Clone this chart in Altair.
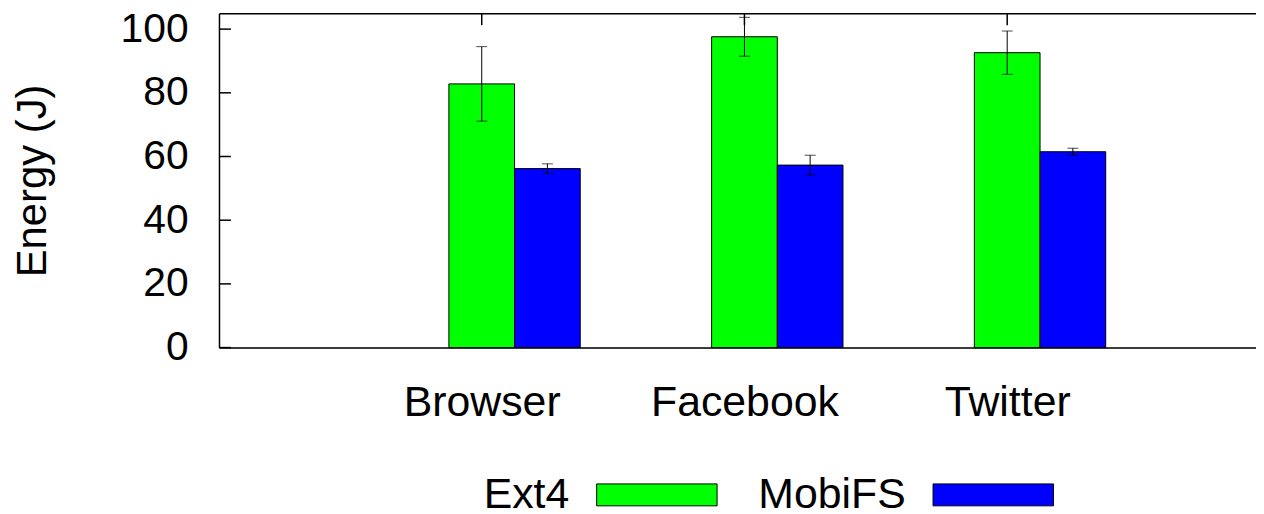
import altair as alt
import pandas as pd

categories = ["Browser", "Facebook", "Twitter"]
series = ["Ext4", "MobiFS"]
ext4_energy = [82.8, 97.6, 92.6]
ext4_err = [11.7, 6.1, 6.8]
mobifs_energy = [56.2, 57.3, 61.5]
mobifs_err = [1.5, 3.1, 1.1]
colors = ["#00ff00", "#0000ff"]
y_ticks = [0, 20, 40, 60, 80, 100]
x_ticks = [0, 1, 2]

rows = []
for i, c in enumerate(categories):
    for j, (s, vals, errs) in enumerate([("Ext4", ext4_energy, ext4_err),
                                         ("MobiFS", mobifs_energy, mobifs_err)]):
        rows.append(dict(app=c, idx=i, series=s, sidx=j, energy=vals[i], err=errs[i]))
df = pd.DataFrame(rows)

FONT = "Liberation Sans"
label_expr = "[" + ",".join("'%s'" % c for c in categories) + "][datum.value]"

xscale = alt.Scale(domain=[-1, 2.947], nice=False, zero=False)
yscale = alt.Scale(domain=[0, 105], nice=False, zero=False)

base = alt.Chart(df).transform_calculate(
    center="datum.idx + datum.sidx * 0.25",
    x0="datum.idx + datum.sidx * 0.25 - 0.125",
    x1="datum.idx + datum.sidx * 0.25 + 0.125",
    lo="datum.energy - datum.err",
    hi="datum.energy + datum.err",
)

bars = base.mark_bar(stroke="black", strokeWidth=1, opacity=1).encode(
    x=alt.X("x0:Q", scale=xscale, axis=alt.Axis(
        orient="bottom", values=x_ticks, labelExpr=label_expr, ticks=False,
        grid=False, domain=True, domainColor="black", domainWidth=1.5,
        labelFontSize=43, labelPadding=34, labelColor="black", labelFont=FONT,
        labelFlush=False, labelOverlap=False, labelLimit=0, title=None)),
    x2="x1:Q",
    y=alt.Y("energy:Q", scale=yscale, axis=alt.Axis(
        orient="left", values=y_ticks, ticks=False, grid=False, domain=True,
        domainColor="black", domainWidth=1.5, labelFontSize=41, labelPadding=31,
        labelColor="black", labelFont=FONT, title="Energy (J)", titleFontSize=42,
        titleFont=FONT, titleFontWeight="normal", titleColor="black",
        titleX=-187, titleY=168, titleAngle=270, titleAlign="center",
        titleBaseline="middle")),
    y2=alt.datum(0),
    color=alt.Color("series:N", scale=alt.Scale(domain=series, range=colors),
                    legend=alt.Legend(
                        orient="none", legendX=379, legendY=423, direction="horizontal",
                        title=None, symbolType="M-1,-0.182H1V0.182H-1Z",
                        symbolSize=14641, symbolStrokeColor="black",
                        symbolStrokeWidth=1, symbolOpacity=1, labelFontSize=43,
                        labelFont=FONT, labelColor="black", labelAlign="right",
                        labelOffset={"expr": "-149"}, labelBaseline="middle",
                        columnPadding=38, padding=0, labelLimit=0)),
)

err_rule = base.mark_rule(color="black", strokeWidth=1).encode(
    x=alt.X("center:Q", scale=xscale, axis=alt.Axis(
        orient="top", values=x_ticks, labels=False, ticks=False, grid=False,
        domain=True, domainColor="black", domainWidth=1.5, title=None)),
    y=alt.Y("lo:Q", scale=yscale, axis=None),
    y2="hi:Q",
)
cap_lo = base.mark_tick(color="black", orient="horizontal", size=11, thickness=1).encode(
    x=alt.X("center:Q", scale=xscale, axis=None),
    y=alt.Y("lo:Q", scale=yscale, axis=None),
)
cap_hi = base.mark_tick(color="black", orient="horizontal", size=11, thickness=1).encode(
    x=alt.X("center:Q", scale=xscale, axis=None),
    y=alt.Y("hi:Q", scale=yscale, axis=None),
)

ytick_rules = alt.Chart(pd.DataFrame({"v": y_ticks})).mark_rule(
    color="black", strokeWidth=1.5).encode(
    y=alt.Y("v:Q", scale=yscale, axis=None),
    x=alt.value(0), x2=alt.value(12),
)
xtick_rules = alt.Chart(pd.DataFrame({"v": x_ticks})).mark_rule(
    color="black", strokeWidth=1.5).encode(
    x=alt.X("v:Q", scale=xscale, axis=None),
    y=alt.value(0), y2=alt.value(12),
)

chart = alt.layer(ytick_rules, xtick_rules, bars, err_rule, cap_lo, cap_hi).resolve_axis(
    x="independent", y="independent"
).properties(
    width=1042, height=336,
    autosize=alt.AutoSizeParams(type="none"),
    padding={"left": 212, "top": 4, "right": 0, "bottom": 166},
).configure_view(stroke=None).configure(font=FONT)

chart.save("out.html", embed_options={"renderer": "svg", "actions": False})
